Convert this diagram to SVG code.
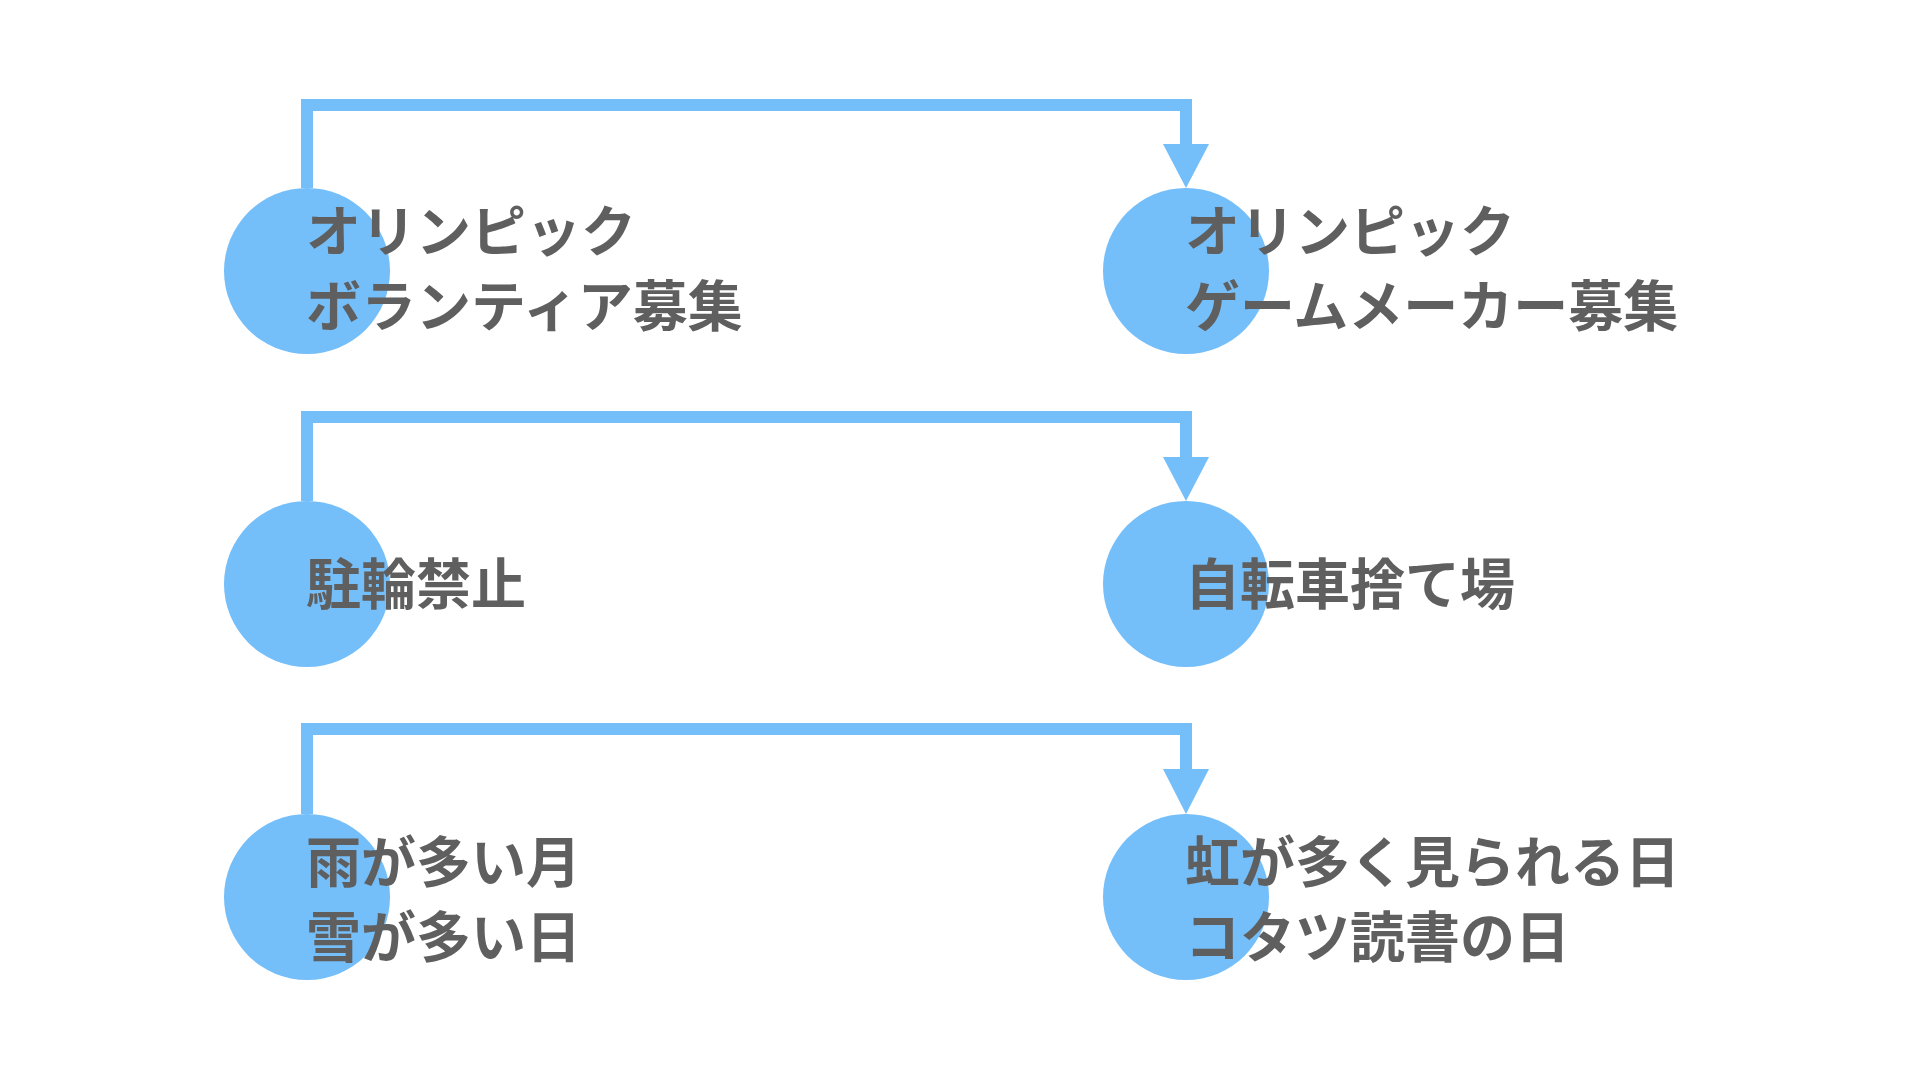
<svg xmlns="http://www.w3.org/2000/svg" width="1920" height="1080" viewBox="0 0 1920 1080">
<style>
.bg{fill:#ffffff}
.dot{fill:#74bef9}
.wire{fill:none;stroke:#74bef9;stroke-width:12;stroke-linejoin:miter;stroke-linecap:butt}
.head{fill:#74bef9}
.lbl{font-family:"Noto Sans CJK JP","Noto Sans CJK SC",sans-serif;font-weight:700;font-size:55px;fill:#5f5f5f}
</style>
<rect class="bg" x="0" y="0" width="1920" height="1080"/>
<g id="connectors">
<path class="wire" d="M307 188 V105 H1186 V144"/>
<polygon class="head" points="1163,144 1209,144 1186,188"/>
<path class="wire" d="M307 501 V417 H1186 V457"/>
<polygon class="head" points="1163,457 1209,457 1186,501"/>
<path class="wire" d="M307 814 V729 H1186 V769"/>
<polygon class="head" points="1163,769 1209,769 1186,814"/>
</g>
<g id="node-olympic-volunteer">
<circle class="dot" cx="307" cy="271" r="83"/>
<text class="lbl" x="306" y="251">オリンピック</text>
<text class="lbl" x="306" y="326">ボランティア募集</text>
</g>
<g id="node-olympic-gamemaker">
<circle class="dot" cx="1186" cy="271" r="83"/>
<text class="lbl" x="1185" y="251">オリンピック</text>
<text class="lbl" x="1185" y="326">ゲームメーカー募集</text>
</g>
<g id="node-parking-ban">
<circle class="dot" cx="307" cy="584" r="83"/>
<text class="lbl" x="306" y="604">駐輪禁止</text>
</g>
<g id="node-bike-dump">
<circle class="dot" cx="1186" cy="584" r="83"/>
<text class="lbl" x="1185" y="604">自転車捨て場</text>
</g>
<g id="node-rainy">
<circle class="dot" cx="307" cy="897" r="83"/>
<text class="lbl" x="306" y="882">雨が多い月</text>
<text class="lbl" x="306" y="957">雪が多い日</text>
</g>
<g id="node-rainbow">
<circle class="dot" cx="1186" cy="897" r="83"/>
<text class="lbl" x="1185" y="882">虹が多く見られる日</text>
<text class="lbl" x="1185" y="957">コタツ読書の日</text>
</g>
</svg>
